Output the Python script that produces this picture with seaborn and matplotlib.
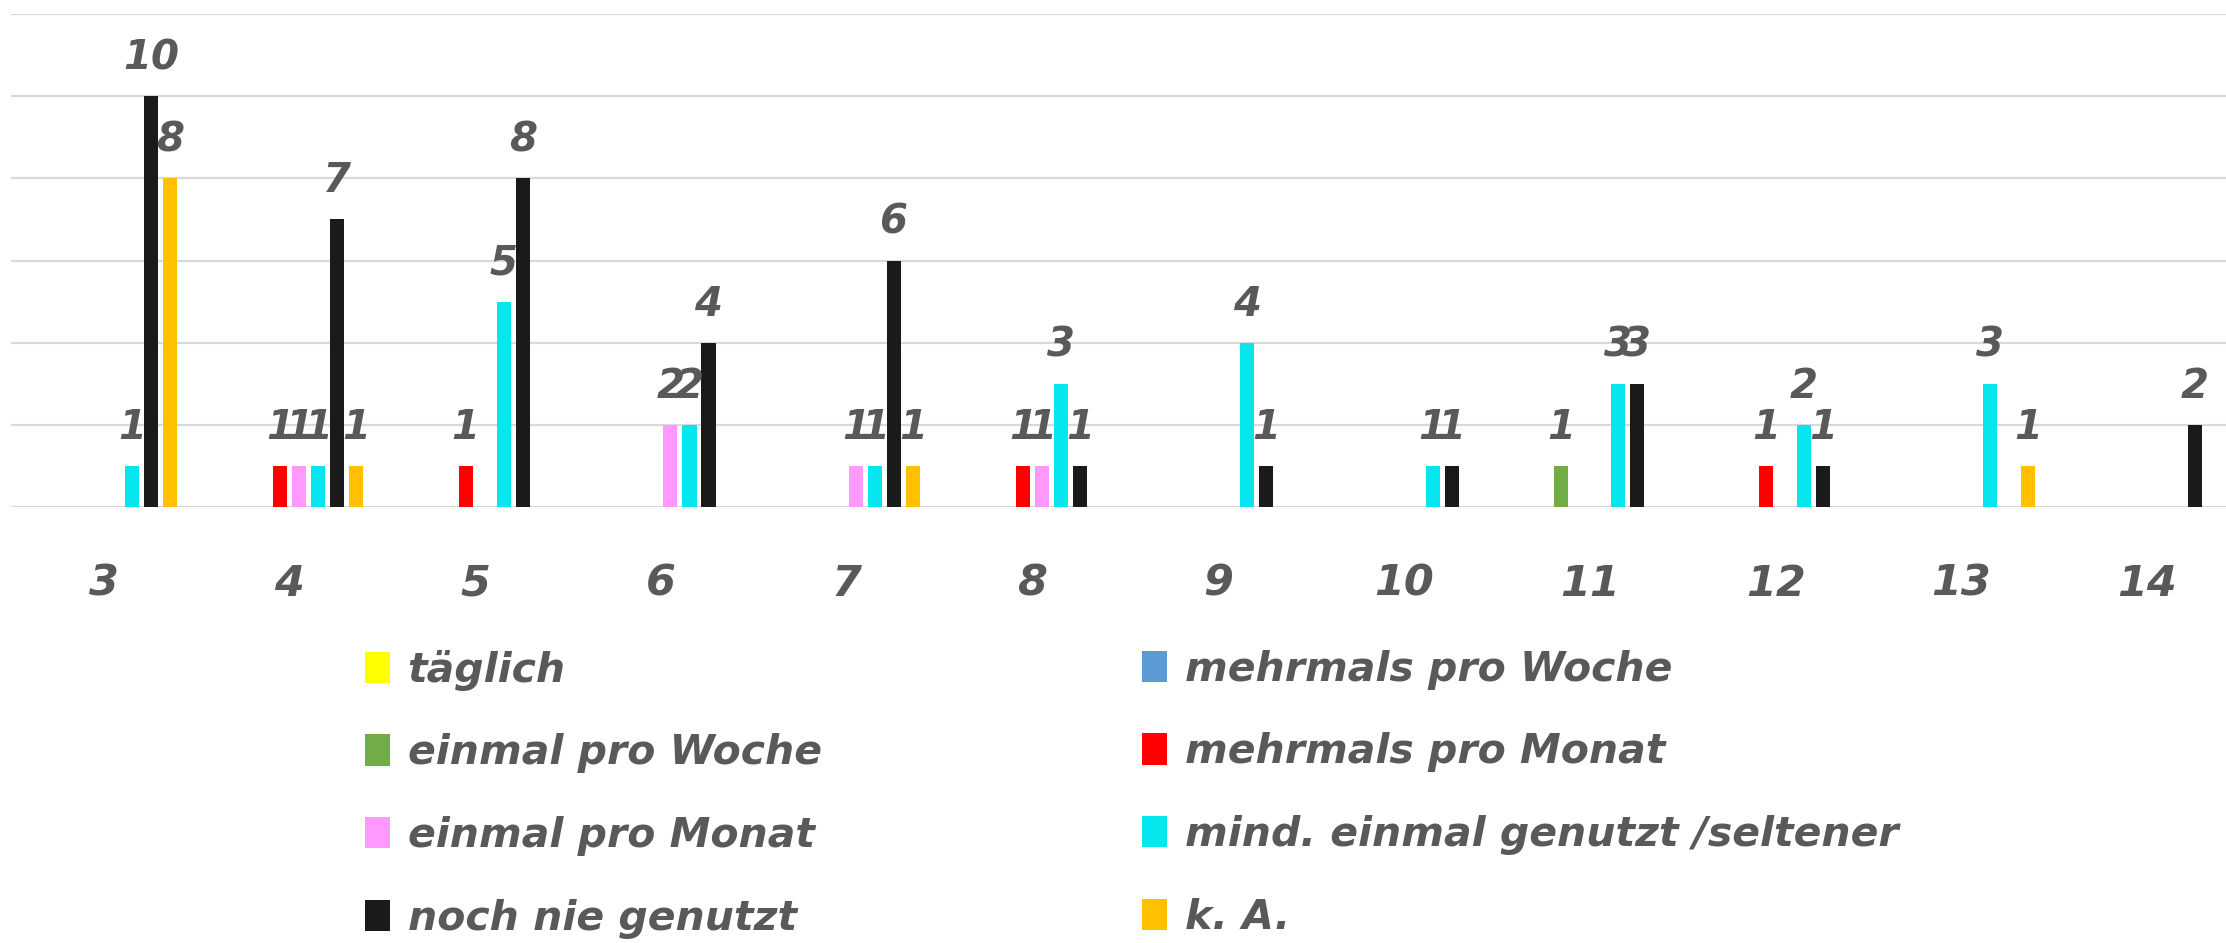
import matplotlib
matplotlib.use("Agg")
import matplotlib.pyplot as plt
from matplotlib.patches import Patch
import seaborn as sns
import pandas as pd

sns.set_style("white")
plt.rcParams['font.family'] = ['DejaVu Sans']

categories = ["3", "4", "5", "6", "7", "8", "9", "10", "11", "12", "13", "14"]
series_names = ["täglich", "mehrmals pro Woche", "einmal pro Woche", "mehrmals pro Monat",
                "einmal pro Monat", "mind. einmal genutzt /seltener", "noch nie genutzt", "k. A."]
taeglich            = [0, 0, 0, 0, 0, 0, 0, 0, 0, 0, 0, 0]
mehrmals_woche      = [0, 0, 0, 0, 0, 0, 0, 0, 0, 0, 0, 0]
einmal_woche        = [0, 0, 0, 0, 0, 0, 0, 0, 1, 0, 0, 0]
mehrmals_monat      = [0, 1, 1, 0, 0, 1, 0, 0, 0, 1, 0, 0]
einmal_monat        = [0, 1, 0, 2, 1, 1, 0, 0, 0, 0, 0, 0]
mind_einmal         = [1, 1, 5, 2, 1, 3, 4, 1, 3, 2, 3, 0]
noch_nie            = [10, 7, 8, 4, 6, 1, 1, 1, 3, 1, 0, 2]
keine_angabe        = [8, 1, 0, 0, 1, 0, 0, 0, 0, 0, 1, 0]
colors = ["#FFFF00", "#5B9BD5", "#70AD47", "#FF0000", "#FF99FF", "#05E6EE", "#1A1A1A", "#FFC000"]

all_series = [taeglich, mehrmals_woche, einmal_woche, mehrmals_monat,
              einmal_monat, mind_einmal, noch_nie, keine_angabe]
rows = []
for name, vals in zip(series_names, all_series):
    for c, v in zip(categories, vals):
        rows.append({"Klasse": c, "Nutzung": name, "Anzahl": v})
df = pd.DataFrame(rows)

W, H = 2226, 943
fig = plt.figure(figsize=(W / 100, H / 100), dpi=100)
ax = fig.add_axes([0.0048, 0.4624, 1.0015, 0.5226])

sns.barplot(data=df, x="Klasse", y="Anzahl", hue="Nutzung", order=categories,
            hue_order=series_names, palette=colors, width=0.82, gap=0.26,
            legend=False, ax=ax, saturation=1, linewidth=0)

text_color = "#595959"
fkw = dict(fontweight="bold", fontstyle="italic", color=text_color)

for cont in ax.containers:
    vals = cont.datavalues
    labels = [f"{int(v)}" if v > 0 else "" for v in vals]
    ax.bar_label(cont, labels=labels, padding=13, fontsize=29, **fkw)

ax.set_ylim(0, 12)
ax.set_xlim(-0.5, 11.5)
ax.set_yticks(range(0, 13, 2))
ax.yaxis.grid(True, color="#D9D9D9", linewidth=1.6)
ax.set_axisbelow(True)
ax.tick_params(axis="y", left=False, labelleft=False)
ax.tick_params(axis="x", length=0, pad=40, labelsize=31, labelcolor=text_color)
for lab in ax.get_xticklabels():
    lab.set_fontweight("bold")
    lab.set_fontstyle("italic")
ax.set_xlabel("")
ax.set_ylabel("")
for s in ax.spines.values():
    s.set_visible(False)

handles = [Patch(facecolor=c, edgecolor="none") for c in colors]
leg_kw = dict(frameon=False, loc="upper left", fontsize=29.5, handlelength=0.62,
              handleheight=0.8, handletextpad=0.42, labelspacing=1.04,
              borderpad=0, borderaxespad=0)
left_idx = [0, 2, 4, 6]
right_idx = [1, 3, 5, 7]
leg1 = fig.legend([handles[i] for i in left_idx], [series_names[i] for i in left_idx],
                  bbox_to_anchor=(0.164, 0.311), **leg_kw)
leg2 = fig.legend([handles[i] for i in right_idx], [series_names[i] for i in right_idx],
                  bbox_to_anchor=(0.513, 0.311), **leg_kw)
for leg in (leg1, leg2):
    for t in leg.get_texts():
        t.set_color(text_color)
        t.set_fontweight("bold")
        t.set_fontstyle("italic")

fig.savefig("out.png", dpi=100)
